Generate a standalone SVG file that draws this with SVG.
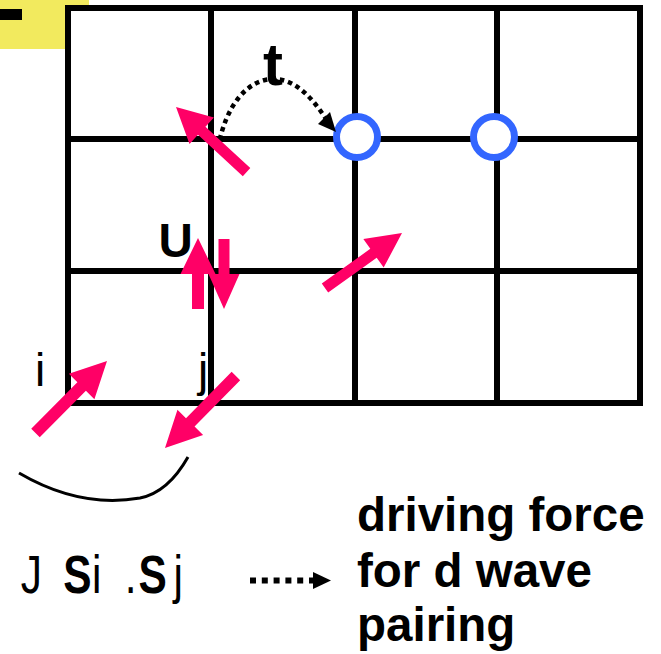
<svg xmlns="http://www.w3.org/2000/svg" width="661" height="654" viewBox="0 0 661 654">
<style>
.grid{fill:none;stroke:#000;stroke-width:6}
.spin{fill:#FF0066}
.hole{fill:#fff;stroke:#3366FF;stroke-width:7}
.dot{fill:none;stroke:#000;stroke-linecap:butt}
.lbl{font-family:"Liberation Sans",Arial,sans-serif;fill:#000}
.b{font-weight:bold}
</style>
<g id="banner">
<rect x="0" y="0" width="89" height="49" fill="#F2EA5E"/>
<rect x="0" y="9" width="22" height="11" fill="#000"/>
</g>
<g id="lattice">
<rect x="68" y="8" width="572" height="395" fill="#fff" stroke="#000" stroke-width="6"/>
<path class="grid" d="M211,8V403M355,8V403M497,8V403M68,139H640M68,271H640"/>
</g>
<g id="holes">
<circle class="hole" cx="357" cy="137" r="20.5"/>
<circle class="hole" cx="494" cy="137" r="20.5"/>
</g>
<g id="connectors">
<path class="dot" stroke-width="4.5" stroke-dasharray="4.5 4" d="M218,148 C226,104 248,80 272,79 C296,78 314,100 328,122"/>
<polygon points="336,132 318,124 330,112" fill="#000"/>
<path class="dot" stroke-width="6" stroke-dasharray="6 5.8" d="M250,580.5H314"/>
<polygon points="313,572 331,580.5 313,589" fill="#000"/>
<path d="M19,473 C60,497 100,505 140,498 C160,494 175,480 188,457" fill="none" stroke="#000" stroke-width="3"/>
</g>
<g id="spin-hop">
<polygon class="spin" transform="translate(176,107) rotate(-137.3)" points="0,0 -35,-18 -35,-5.5 -96,-5.5 -96,5.5 -35,5.5 -35,18"/>
</g>
<g id="spin-up-U">
<polygon class="spin" transform="translate(198,238) rotate(-90)" points="0,0 -36,-17.5 -36,-6 -71,-6 -71,6 -36,6 -36,17.5"/>
</g>
<g id="spin-down-U">
<polygon class="spin" transform="translate(224,309) rotate(90)" points="0,0 -35,-15.5 -35,-5.5 -70,-5.5 -70,5.5 -35,5.5 -35,15.5"/>
</g>
<g id="spin-mid">
<polygon class="spin" transform="translate(402,233) rotate(-35.5)" points="0,0 -35,-17.5 -35,-5.5 -94.6,-5.5 -94.6,5.5 -35,5.5 -35,17.5"/>
</g>
<g id="spin-i">
<polygon class="spin" transform="translate(107,361) rotate(-45.2)" points="0,0 -36,-18 -36,-6 -101.5,-6 -101.5,6 -36,6 -36,18"/>
</g>
<g id="spin-j">
<polygon class="spin" transform="translate(165,448) rotate(134.6)" points="0,0 -36,-18 -36,-6 -101,-6 -101,6 -36,6 -36,18"/>
</g>
<g id="labels">
<text class="lbl b" x="263" y="85" font-size="60">t</text>
<text class="lbl b" x="158.5" y="257" font-size="47.5">U</text>
<text class="lbl" x="35" y="386" font-size="46">i</text>
<text class="lbl" x="198" y="386" font-size="46">j</text>
</g>
<g id="formula">
<text class="lbl" y="593" font-size="53" transform="scale(0.8,1)"><tspan x="26">J</tspan><tspan x="79" font-weight="bold">S</tspan><tspan x="115">i</tspan><tspan x="156">.</tspan><tspan x="173" font-weight="bold">S</tspan><tspan x="217">j</tspan></text>
</g>
<g id="result">
<text class="lbl b" font-size="47.5"><tspan x="357" y="531">driving force</tspan><tspan x="357" y="587">for d wave</tspan><tspan x="357" y="641">pairing</tspan></text>
</g>
</svg>
